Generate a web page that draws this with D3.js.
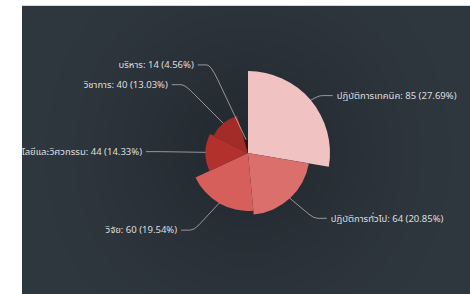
<!DOCTYPE html>
<html><head><meta charset="utf-8">
<script src="https://cdn.jsdelivr.net/npm/d3@7"></script>
<style>html,body{margin:0;padding:0;background:#fff;} svg{display:block;}</style>
</head><body>
<svg id="c" width="470" height="294"></svg>
<script>
// ---- data ----
const categories = ["ปฏิบัติการเทคนิค", "ปฏิบัติการทั่วไป", "วิจัย", "เทคโนโลยีและวิศวกรรม", "วิชาการ", "บริหาร"];
const values = [85, 64, 60, 44, 40, 14];
const baseColor = "#c23531";
const lightnessDomain = [0, 100];

// ---- layout ----
const W = 470, H = 294;
const panel = {x: 22, y: 6, w: 448, h: 288};
const cx = 248, cy = 153, R = 82;
const total = d3.sum(values);
const data = categories.map((c, i) => ({name: c, value: values[i]}));

const svg = d3.select("#c");
const defs = svg.append("defs");
defs.append("clipPath").attr("id", "panelClip").append("rect")
  .attr("x", panel.x).attr("y", panel.y).attr("width", panel.w).attr("height", panel.h);
const blur = defs.append("filter").attr("id", "shadow")
  .attr("filterUnits", "userSpaceOnUse").attr("x", -W).attr("y", -H).attr("width", 2 * W).attr("height", 2 * H);
blur.append("feGaussianBlur").attr("stdDeviation", 70);

svg.append("rect").attr("width", W).attr("height", H).attr("fill", "#fff");
svg.append("line").attr("x1", panel.x).attr("x2", W).attr("y1", panel.y - 0.5).attr("y2", panel.y - 0.5)
  .attr("stroke", "#d8d8d8");

const g = svg.append("g").attr("clip-path", "url(#panelClip)");
g.append("rect").attr("x", panel.x).attr("y", panel.y).attr("width", panel.w).attr("height", panel.h)
  .attr("fill", "#2e363e");

const rScale = d3.scaleLinear().domain([0, d3.max(values)]).range([0, R]);
const lScale = d3.scaleLinear().domain(lightnessDomain).range([0, 1]).clamp(true);
const colorOf = v => { const c = d3.hsl(baseColor); c.l = lScale(v); return c.formatHex(); };

const pie = d3.pie().sort(null).value(d => d.value).startAngle(0).endAngle(2 * Math.PI);
const arcs = pie(data);
const arcGen = d3.arc().innerRadius(0).outerRadius(d => rScale(d.data.value));

const root = g.append("g").attr("transform", `translate(${cx},${cy})`);
// shadow (soft, centred on the pie)
root.append("g").attr("filter", "url(#shadow)").append("circle")
  .attr("r", R * 1.1).attr("fill", "#000").attr("opacity", 0.4);
// slices
root.append("g").selectAll("path").data(arcs).join("path")
  .attr("d", arcGen).attr("fill", d => colorOf(d.data.value));

// labels
const LR = R + 7, RB = R + 15, len2 = 13, gap = 4;
const fmtPct = d3.format(".2f");
const labels = arcs.map(d => {
  const mid = (d.startAngle + d.endAngle) / 2;
  const dx = Math.sin(mid), dy = -Math.cos(mid);
  const r = rScale(d.data.value);
  const side = dx < 0 ? -1 : 1;
  const p1 = [r * dx, r * dy];
  const ly = LR * dy;
  const ex = LR * Math.sqrt(Math.max(0, 1 - (ly / RB) * (ly / RB)));
  const p2 = [side * ex, ly];
  const p3 = [p2[0] + side * len2, ly];
  return {d, side, p1, p2, p3, tx: p3[0] + side * gap,
    text: `${d.data.name}: ${d.data.value} (${fmtPct(d.data.value / total * 100)}%)`};
});
const lerp = (a, b, t) => [a[0] + (b[0] - a[0]) * t, a[1] + (b[1] - a[1]) * t];
const linePath = l => {
  const a = lerp(l.p1, l.p2, 0.8), b = lerp(l.p2, l.p3, 0.3);
  return `M${l.p1}L${a}Q${l.p2} ${b}L${l.p3}`;
};
root.append("g").selectAll("path").data(labels).join("path")
  .attr("d", linePath).attr("fill", "none").attr("stroke", "rgba(255,255,255,0.5)").attr("stroke-width", 1);
root.append("g").selectAll("text").data(labels).join("text")
  .attr("x", l => l.tx).attr("y", l => l.p3[1]).attr("dy", "0.35em")
  .attr("text-anchor", l => l.side < 0 ? "end" : "start")
  .attr("fill", "rgba(255,255,255,0.85)")
  .style("font-family", "'Noto Sans', 'Noto Sans Thai', sans-serif").style("font-size", "9.5px")
  .text(l => l.text);
</script>
</body></html>
